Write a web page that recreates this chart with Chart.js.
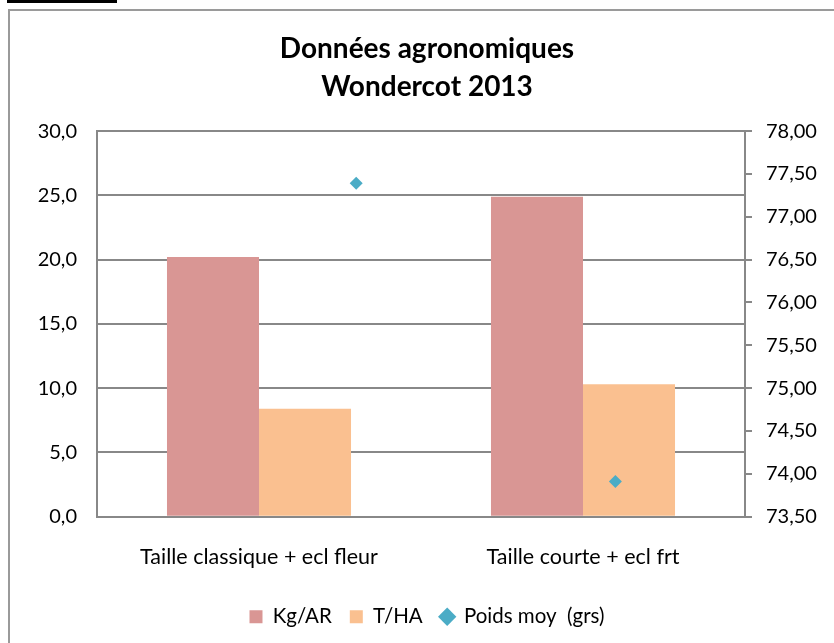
<!DOCTYPE html>
<html>
<head>
<meta charset="utf-8">
<script src="https://cdn.jsdelivr.net/npm/chart.js@4.4.1/dist/chart.umd.min.js"></script>
<style>
  html, body { margin: 0; padding: 0; background: #fff; overflow: hidden; }
  body { width: 834px; height: 643px; position: relative; }
  .barre { position: absolute; left: 7px; top: 0; width: 110px; height: 3px; background: #000; }
  .cadre { position: absolute; left: 8px; top: 9px; width: 900px; height: 700px; border: 2px solid #9a9a9a; }
  #graf { position: absolute; left: 0; top: 0; }
</style>
</head>
<body>
<div class="barre"></div>
<div class="cadre"></div>
<!-- plus large que la fenêtre : le cadre Excel dépasse à droite -->
<canvas id="graf" width="854" height="643"></canvas>
<script>
// Données
const categories = ["Taille classique + ecl fleur", "Taille courte + ecl frt"];
const kgAr = [20.2, 24.9];
const tHa = [8.4, 10.3];
const poidsX = [1, 2];
const poidsMoy = [77.39, 73.91];

const police = "Lato, 'Liberation Sans', sans-serif";
const gris = "#888888";

Chart.defaults.font.family = police;
Chart.defaults.color = "#000";

function virgule(v, d) {
  return Number(v).toFixed(d).replace(".", ",");
}

new Chart(document.getElementById("graf"), {
  type: "bar",
  data: {
    labels: categories,
    datasets: [
      // losanges en premier : dessinés par-dessus les barres
      {
        type: "line",
        label: "Poids moy  (grs)",
        data: poidsX.map((x, i) => ({ x: x, y: poidsMoy[i] })),
        xAxisID: "x2",
        yAxisID: "y2",
        showLine: false,
        pointStyle: "rectRot",
        pointRadius: 6.5,
        backgroundColor: "#4BACC6",
        borderColor: "#4BACC6",
        borderWidth: 0,
      },
      {
        label: "Kg/AR",
        data: kgAr,
        backgroundColor: "#D99694",
        pointStyle: "rect",
        xAxisID: "x",
        yAxisID: "y",
      },
      {
        label: "T/HA",
        data: tHa,
        backgroundColor: "#FAC090",
        pointStyle: "rect",
        xAxisID: "x",
        yAxisID: "y",
      },
    ],
  },
  options: {
    responsive: false,
    animation: false,
    layout: { padding: { left: 10, right: 10, top: 10, bottom: 6 } },
    datasets: {
      // chart.js 4.5 partage la place entre les 2 axes x (x et x2), d'où le x2
      bar: { categoryPercentage: 1.136, barPercentage: 1.0 },
    },
    scales: {
      x: {
        grid: { display: false },
        border: { display: true, color: gris, width: 2 },
        ticks: { font: { size: 21.5 }, padding: 19, maxRotation: 0 },
      },
      x2: {
        type: "linear",
        display: false,
        offset: false,
        min: 0,
        max: 2.5,
      },
      y: {
        position: "left",
        min: 0,
        max: 30,
        ticks: {
          stepSize: 5,
          font: { size: 20 },
          padding: 20,
          callback: (v) => virgule(v, 1),
        },
        grid: { color: gris, lineWidth: 2, drawTicks: false },
        border: { display: true, color: gris, width: 2 },
        afterFit: (s) => { s.width = 87; },
      },
      y2: {
        position: "right",
        min: 73.5,
        max: 78,
        ticks: {
          stepSize: 0.5,
          font: { size: 20 },
          padding: 14,
          callback: (v) => virgule(v, 2),
        },
        grid: { drawOnChartArea: false, color: gris, lineWidth: 2, tickLength: 7 },
        border: { display: true, color: gris, width: 2 },
        afterFit: (s) => { s.width = 99; },
      },
    },
    plugins: {
      title: {
        display: true,
        text: ["Données agronomiques", "Wondercot 2013"],
        font: { size: 28, weight: "bold", lineHeight: 1.35 },
        color: "#000",
        padding: { top: 20, bottom: 25.5 },
      },
      legend: {
        position: "bottom",
        labels: {
          usePointStyle: true,
          boxWidth: 13,
          boxHeight: 13,
          padding: 18,
          font: { size: 20.5 },
          color: "#000",
          sort: (a, b) => ((a.datasetIndex + 2) % 3) - ((b.datasetIndex + 2) % 3),
        },
      },
      tooltip: { enabled: false },
    },
  },
});
</script>
</body>
</html>
